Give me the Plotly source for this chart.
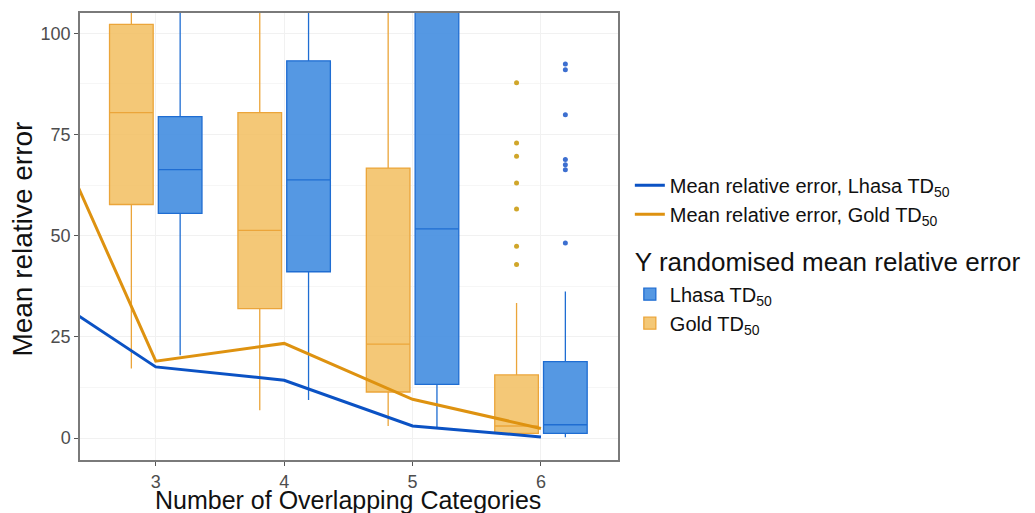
import plotly.graph_objects as go

# Overlapping-category counts
categories = [3, 4, 5, 6]

# Mean relative error curves (first point at 2 is the value carried in from fewer overlaps)
line_x = [2, 3, 4, 5, 6]
lhasa_mean = [38.6, 17.6, 14.3, 3.0, 0.3]
gold_mean = [90.2, 19.0, 23.4, 9.6, 2.4]

# Y-randomised box statistics, Lhasa TD50
lhasa_q1 = [55.5, 41.1, 13.3, 1.2]
lhasa_median = [66.3, 63.8, 51.7, 3.3]
lhasa_q3 = [79.4, 93.2, 118.0, 18.9]
lhasa_low = [20.5, 9.4, 2.6, 0.2]
lhasa_high = [140.0, 135.0, 180.0, 36.2]
lhasa_outliers_6 = [92.4, 91.0, 79.9, 68.8, 67.5, 66.3, 48.2]

# Y-randomised box statistics, Gold TD50
gold_q1 = [57.7, 32.0, 11.4, 1.2]
gold_median = [80.4, 51.3, 23.2, 3.0]
gold_q3 = [102.2, 80.4, 66.7, 15.6]
gold_low = [17.2, 6.9, 3.0, 0.5]
gold_high = [140.0, 130.0, 140.0, 33.4]
gold_outliers_6 = [87.8, 72.9, 69.6, 63.0, 56.6, 47.4, 42.9]

y_ticks = [0, 25, 50, 75, 100]

DODGE = 0.19
BOX_W = 0.34
BLUE_LINE = "#0b52c4"
GOLD_LINE = "#de9210"

fig = go.Figure()

# Boxes
fig.add_trace(go.Box(
    x=[c - DODGE for c in categories],
    q1=gold_q1, median=gold_median, q3=gold_q3,
    lowerfence=gold_low, upperfence=gold_high,
    width=BOX_W, whiskerwidth=0,
    fillcolor="rgba(242,190,95,0.85)",
    line=dict(color="#eba53a", width=1.3),
    name="Gold TD<sub>50</sub>", legendgroup="box",
    legendgrouptitle=dict(text="Y randomised mean relative error",
                          font=dict(size=26, color="#111111")),
    legendrank=4, boxpoints=False, hoverinfo="skip",
))
fig.add_trace(go.Box(
    x=[c + DODGE for c in categories],
    q1=lhasa_q1, median=lhasa_median, q3=lhasa_q3,
    lowerfence=lhasa_low, upperfence=lhasa_high,
    width=BOX_W, whiskerwidth=0,
    fillcolor="rgba(70,143,225,0.92)",
    line=dict(color="#1f6dd2", width=1.3),
    name="Lhasa TD<sub>50</sub>", legendgroup="box",
    legendrank=3, boxpoints=False, hoverinfo="skip",
))

# Outliers at six overlapping categories
fig.add_trace(go.Scatter(
    x=[categories[-1] - DODGE] * len(gold_outliers_6), y=gold_outliers_6,
    mode="markers", marker=dict(color="#d0a62a", size=5),
    showlegend=False, hoverinfo="skip",
))
fig.add_trace(go.Scatter(
    x=[categories[-1] + DODGE] * len(lhasa_outliers_6), y=lhasa_outliers_6,
    mode="markers", marker=dict(color="#3d6fd0", size=5),
    showlegend=False, hoverinfo="skip",
))

# Mean relative error lines
fig.add_trace(go.Scatter(
    x=line_x, y=lhasa_mean, mode="lines",
    line=dict(color=BLUE_LINE, width=3),
    name="Mean relative error, Lhasa TD<sub>50</sub>",
    legendgroup="lines", legendrank=1,
))
fig.add_trace(go.Scatter(
    x=line_x, y=gold_mean, mode="lines",
    line=dict(color=GOLD_LINE, width=3),
    name="Mean relative error, Gold TD<sub>50</sub>",
    legendgroup="lines", legendrank=2,
))

axis_common = dict(
    showline=True, linecolor="#7a7a7a", linewidth=1.5, mirror=True,
    ticks="outside", ticklen=4, tickcolor="#555555",
    tickfont=dict(size=18, color="#4d4d4d"),
    gridcolor="#f1f1f1", gridwidth=1, zeroline=False,
    automargin=False,
)

fig.update_layout(
    width=1035, height=513,
    margin=dict(l=80, r=417, t=13, b=53, autoexpand=False),
    paper_bgcolor="white", plot_bgcolor="white",
    font=dict(family="Liberation Sans, Arial, sans-serif", color="#111111"),
    boxmode="overlay",
    showlegend=True,
    legend=dict(
        x=1.022, xanchor="left", y=0.658, yanchor="top",
        font=dict(size=20, color="#111111"),
        traceorder="grouped", tracegroupgap=14,
        itemwidth=30, bgcolor="rgba(0,0,0,0)",
    ),
    xaxis=dict(
        range=[2.41, 6.6], tickvals=categories, ticklabelstandoff=1,
        **axis_common,
    ),
    yaxis=dict(
        range=[-5.4, 105], tickvals=y_ticks,
        minor=dict(showgrid=True, gridcolor="#f6f6f6", dtick=12.5, tick0=0),
        **axis_common,
    ),
    annotations=[
        dict(text="Number of Overlapping Categories", xref="paper", yref="paper",
             x=0.499, y=-0.09, xanchor="center", yanchor="middle",
             showarrow=False, font=dict(size=25, color="#111111")),
        dict(text="Mean relative error", xref="paper", yref="paper",
             x=-0.107, y=0.494, xanchor="center", yanchor="middle", textangle=-90,
             showarrow=False, font=dict(size=28, color="#111111")),
    ],
)

fig.write_html("out.html")
